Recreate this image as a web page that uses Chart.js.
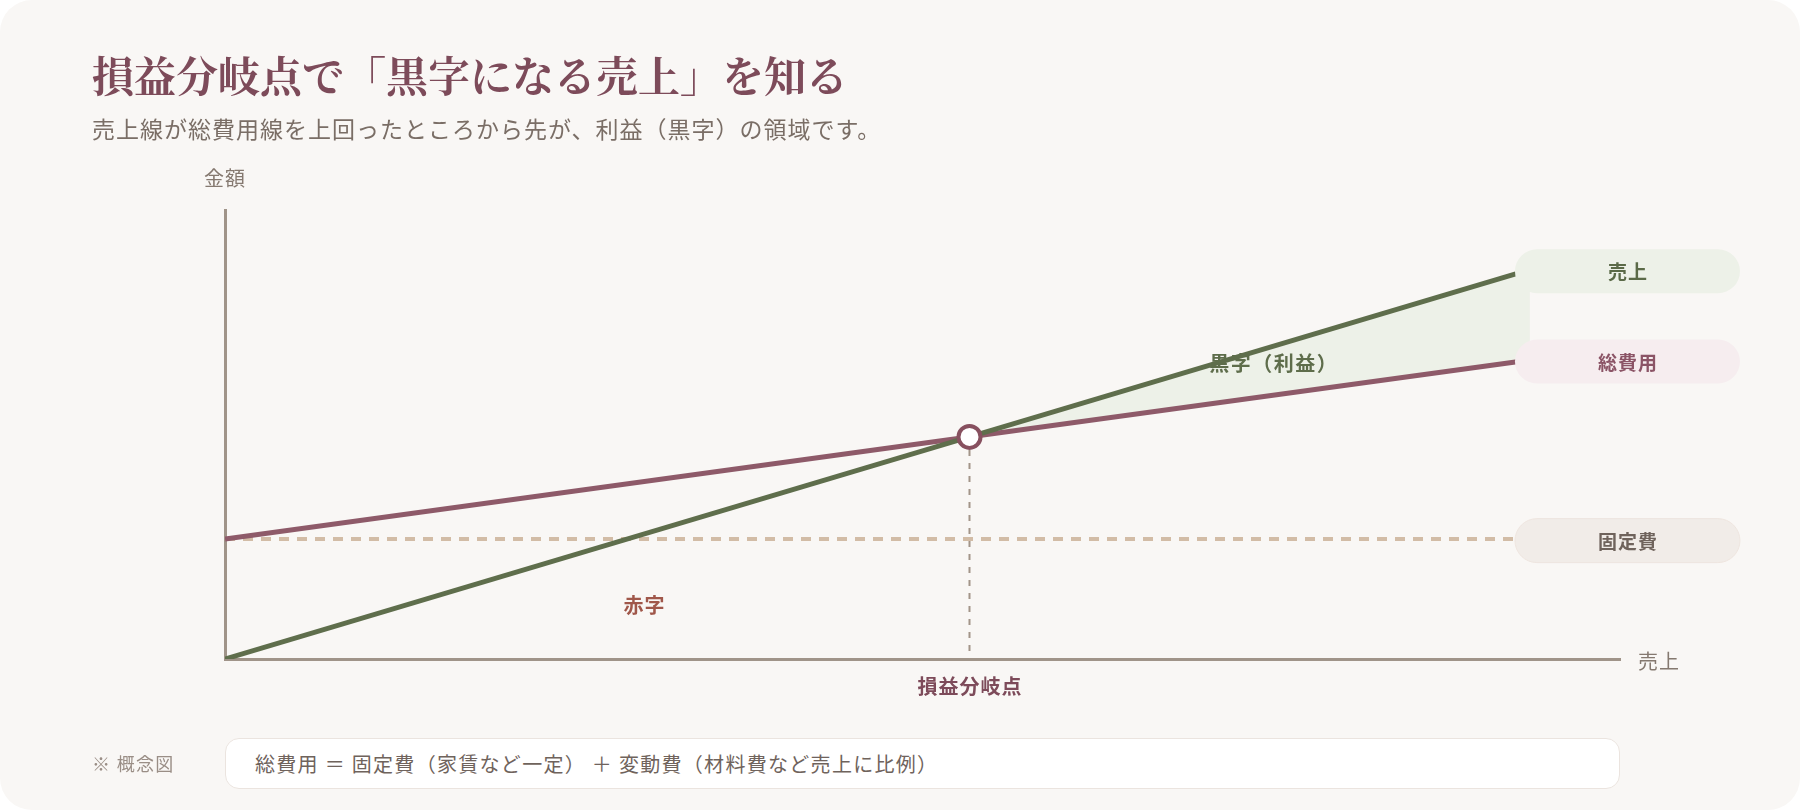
<!DOCTYPE html>
<html lang="ja">
<head>
<meta charset="utf-8">
<script src="https://cdn.jsdelivr.net/npm/chart.js@4.4.1/dist/chart.umd.min.js"></script>
<style>
  html, body { margin:0; padding:0; background:#ffffff; }
  body { width:1800px; height:810px; overflow:hidden; font-family:"Noto Sans CJK JP","Noto Sans",sans-serif; }
  #card { position:absolute; left:0; top:0; width:1800px; height:810px; background:#f9f7f5; border-radius:32px; overflow:hidden; }
  #c { position:absolute; left:0; top:0; }
  .t { position:absolute; white-space:nowrap; margin:0; }
  h1.t { left:92px; top:46px; font-family:"Noto Serif CJK JP","Noto Serif JP","Noto Serif CJK SC",serif; font-weight:700; font-size:42px; line-height:56px; color:#7d4b5a; }
  .sub { left:92px; top:113px; font-size:23px; line-height:30px; letter-spacing:1px; color:#7a6e66; }
  .ylab { left:204px; top:165px; font-size:20px; line-height:26px; letter-spacing:1px; color:#857970; }
  .xlab { left:1638px; top:648px; font-size:20px; line-height:26px; letter-spacing:1px; color:#857970; }
  .note { left:92px; top:750px; font-size:18px; line-height:26px; letter-spacing:1.3px; color:#9a8e86; }
  .formula { position:absolute; left:225px; top:738px; width:1395px; height:51px; background:#ffffff; border:1.5px solid #ebe4df; border-radius:14px; box-sizing:border-box; }
  .formula span { position:absolute; left:29px; top:11px; font-size:20px; line-height:27px; letter-spacing:1.3px; color:#6f635c; white-space:nowrap; }
</style>
</head>
<body>
<div id="card">
  <canvas id="c" width="1800" height="810"></canvas>
  <h1 class="t">損益分岐点で「黒字になる売上」を知る</h1>
  <p class="t sub">売上線が総費用線を上回ったところから先が、利益（黒字）の領域です。</p>
  <div class="t ylab">金額</div>
  <div class="t xlab">売上</div>
  <div class="t note">※ 概念図</div>
  <div class="formula"><span>総費用 ＝ 固定費（家賃など一定） ＋ 変動費（材料費など売上に比例）</span></div>
</div>
<script>
// ---- data (conceptual units) ----
const xValues = [0, 100];
const salesValues = [0, 86.7];
const totalCostValues = [26.7, 66.6];
const fixedCostValues = [26.7, 26.7];
const seriesNames = ['売上', '総費用', '固定費'];
const regionLabels = ['黒字（利益）', '赤字', '損益分岐点'];

// break-even: intersection of the sales and total-cost segments
function intersect(xs, a, b) {
  const da = (a[1] - a[0]) / (xs[1] - xs[0]);
  const db = (b[1] - b[0]) / (xs[1] - xs[0]);
  const x = xs[0] + (b[0] - a[0]) / (da - db);
  return { x: x, y: a[0] + da * (x - xs[0]) };
}
const be = intersect(xValues, salesValues, totalCostValues);
const pts = arr => xValues.map((x, i) => ({ x: x, y: arr[i] }));

const FONT = '"Noto Sans CJK JP","Noto Sans",sans-serif';

function roundRect(ctx, x, y, w, h, r) {
  ctx.beginPath();
  ctx.moveTo(x + r, y);
  ctx.lineTo(x + w - r, y);
  ctx.arc(x + w - r, y + r, r, -Math.PI / 2, 0);
  ctx.lineTo(x + w, y + h - r);
  ctx.arc(x + w - r, y + h - r, r, 0, Math.PI / 2);
  ctx.lineTo(x + r, y + h);
  ctx.arc(x + r, y + h - r, r, Math.PI / 2, Math.PI);
  ctx.lineTo(x, y + r);
  ctx.arc(x + r, y + r, r, Math.PI, Math.PI * 1.5);
  ctx.closePath();
}
function centeredText(ctx, text, cx, cy, spacing) {
  ctx.letterSpacing = spacing + 'px';
  ctx.fillText(text, cx + spacing / 2, cy);
  ctx.letterSpacing = '0px';
}

const annot = {
  id: 'annot',
  beforeDatasetsDraw(chart) {
    const { ctx, scales: { x, y } } = chart;
    ctx.save();
    ctx.textAlign = 'center';
    ctx.textBaseline = 'middle';
    ctx.font = 'bold 20px ' + FONT;
    ctx.fillStyle = '#5e6d4b';
    centeredText(ctx, regionLabels[0], x.getPixelForValue(80.3), y.getPixelForValue(65.9), 1.5);
    ctx.fillStyle = '#a0574a';
    centeredText(ctx, regionLabels[1], x.getPixelForValue(32.1), y.getPixelForValue(12.0), 1);
    ctx.restore();
  },
  afterDatasetsDraw(chart) {
    const { ctx, chartArea, scales: { x, y } } = chart;
    ctx.save();
    const left = x.getPixelForValue(xValues[1]) - 15;
    const w = 225, h = 44;
    const pills = [
      { arr: salesValues, bg: '#edf1e8', fg: '#5b6a48', bd: null },
      { arr: totalCostValues, bg: '#f6edef', fg: '#8b5466', bd: null },
      { arr: fixedCostValues, bg: '#f1ece8', fg: '#6f635c', bd: '#eee5df' }
    ];
    ctx.textAlign = 'center';
    ctx.textBaseline = 'middle';
    ctx.font = 'bold 19px ' + FONT;
    pills.forEach((p, i) => {
      const cy = y.getPixelForValue(p.arr[p.arr.length - 1]) + 1.5;
      roundRect(ctx, left, cy - h / 2, w, h, h / 2);
      ctx.fillStyle = p.bg;
      ctx.fill();
      if (p.bd) { ctx.lineWidth = 1; ctx.strokeStyle = p.bd; ctx.stroke(); }
      ctx.fillStyle = p.fg;
      centeredText(ctx, seriesNames[i], left + w / 2, cy + 1, 1);
    });
    ctx.font = 'bold 20px ' + FONT;
    ctx.fillStyle = '#7d4b5a';
    centeredText(ctx, regionLabels[2], x.getPixelForValue(be.x), chartArea.bottom + 27, 1);
    ctx.restore();
  }
};

new Chart(document.getElementById('c'), {
  type: 'line',
  data: {
    datasets: [
      { label: seriesNames[0], data: pts(salesValues), borderColor: '#5f6e4c', borderWidth: 5, pointRadius: 0,
        fill: { target: 1, above: '#edf1e8', below: 'rgba(0,0,0,0)' }, order: 2 },
      { label: seriesNames[1], data: pts(totalCostValues), borderColor: '#8e5a69', borderWidth: 5, pointRadius: 0, fill: false, order: 3 },
      { label: seriesNames[2], data: pts(fixedCostValues), borderColor: '#d2bca6', borderWidth: 4, borderDash: [10, 8], pointRadius: 0, fill: false, order: 4 },
      { label: 'guide', data: [{ x: be.x, y: be.y }, { x: be.x, y: 0 }], borderColor: '#a39589', borderWidth: 2, borderDash: [6, 7], pointRadius: 0, fill: false, order: 5 },
      { label: regionLabels[2], data: [{ x: be.x, y: be.y }], showLine: false, pointRadius: 11, pointBorderWidth: 4,
        pointBorderColor: '#87505f', pointBackgroundColor: '#ffffff', order: 0 }
    ]
  },
  options: {
    responsive: false,
    animation: false,
    events: [],
    layout: { padding: { left: 225, right: 180, top: 210, bottom: 151 } },
    scales: {
      x: { type: 'linear', min: 0, max: 106.9, grid: { display: false }, ticks: { display: false },
           border: { display: true, color: '#a09489', width: 3 }, afterFit(s) { s.height = 0; } },
      y: { type: 'linear', min: 0, max: 100, grid: { display: false }, ticks: { display: false },
           border: { display: true, color: '#a09489', width: 3 }, afterFit(s) { s.width = 0; } }
    },
    plugins: {
      legend: { display: false },
      tooltip: { enabled: false },
      filler: { drawTime: 'beforeDatasetsDraw' }
    }
  },
  plugins: [annot]
});
</script>
</body>
</html>
